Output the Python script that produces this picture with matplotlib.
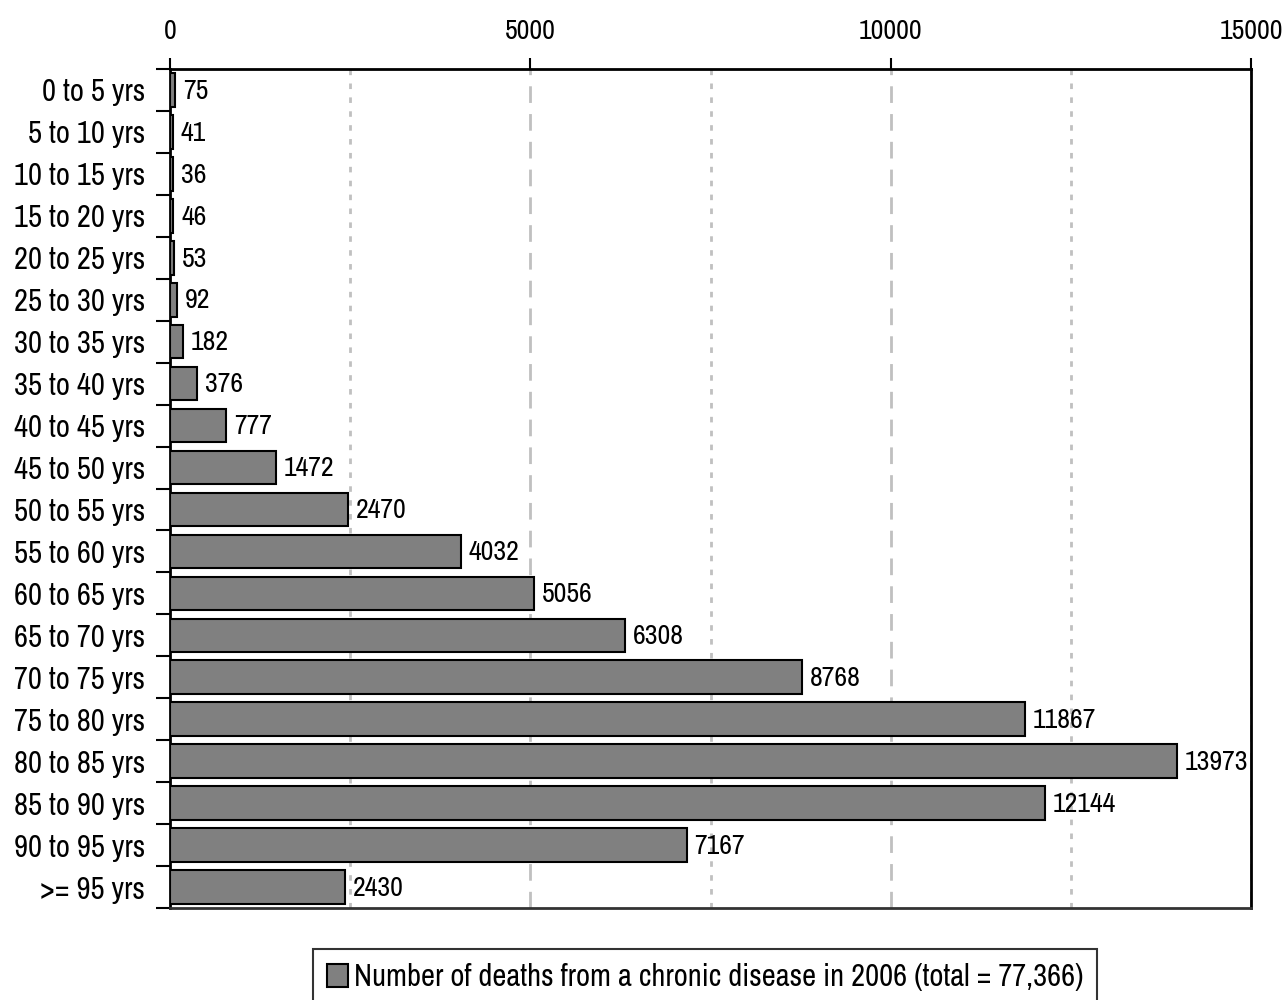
import matplotlib
matplotlib.use('Agg')
import matplotlib.pyplot as plt
import matplotlib.ticker as mticker
from matplotlib.patches import Patch
import numpy as np

# narrow sans, first installed one wins
plt.rcParams['font.family'] = ['Liberation Sans Narrow', 'Arial Narrow', 'Archivo Narrow',
                               'PT Sans Narrow', 'Roboto Condensed', 'Liberation Sans', 'DejaVu Sans']

age_groups = ['0 to 5 yrs', '5 to 10 yrs', '10 to 15 yrs', '15 to 20 yrs', '20 to 25 yrs',
              '25 to 30 yrs', '30 to 35 yrs', '35 to 40 yrs', '40 to 45 yrs', '45 to 50 yrs',
              '50 to 55 yrs', '55 to 60 yrs', '60 to 65 yrs', '65 to 70 yrs', '70 to 75 yrs',
              '75 to 80 yrs', '80 to 85 yrs', '85 to 90 yrs', '90 to 95 yrs', '>= 95 yrs']
deaths = [75, 41, 36, 46, 53, 92, 182, 376, 777, 1472,
          2470, 4032, 5056, 6308, 8768, 11867, 13973, 12144, 7167, 2430]
legend_label = 'Number of deaths from a chronic disease in 2006 (total = 77,366)'

fig = plt.figure(figsize=(12.84, 10), dpi=100)
ax = fig.add_axes([170 / 1284, 1 - 908 / 1000, (1251 - 170) / 1284, (908 - 69) / 1000])

y = np.arange(len(age_groups))
ax.barh(y, deaths, height=0.8, color='#808080', edgecolor='black', linewidth=1.5, zorder=3)

for yi, v in zip(y, deaths):
    ax.text(v + 110, yi + 0.03, str(v), va='center', ha='left', fontsize=20, zorder=4)

ax.set_xlim(0, 15000)
ax.set_ylim(len(age_groups) - 0.5, -0.5)

# grid lines: dashed at majors, dotted at halfway points
for gx in [5000, 10000, 15000]:
    ax.axvline(gx, color='#c0c0c0', linestyle=(0, (6, 4)), linewidth=2, zorder=1)
for gx in [2500, 7500, 12500]:
    ax.axvline(gx, color='#c0c0c0', linestyle=(0, (2, 3)), linewidth=2, zorder=1)

ax.xaxis.tick_top()
ax.set_xticks([0, 5000, 10000, 15000])
ax.tick_params(axis='x', direction='out', length=8, width=1.5, labelsize=20, pad=10)

ax.set_yticks(y)
ax.set_yticklabels(age_groups)
ax.yaxis.set_minor_locator(mticker.FixedLocator(np.arange(-0.5, len(age_groups), 1)))
ax.tick_params(axis='y', which='major', length=0, labelsize=22, pad=18)
ax.tick_params(axis='y', which='minor', direction='out', length=10, width=1.5)

for s in ['top', 'left', 'right']:
    ax.spines[s].set_linewidth(2)
ax.spines['bottom'].set_linewidth(2)
ax.spines['bottom'].set_color('#333333')

handle = Patch(facecolor='#808080', edgecolor='black', linewidth=1.5)
leg = fig.legend([handle], [legend_label], loc='lower center', bbox_to_anchor=(705 / 1284, -0.02),
                 fontsize=22, frameon=True, fancybox=False, edgecolor='black',
                 handlelength=0.7, handleheight=0.8, handletextpad=0.2, borderpad=0.45)
leg.get_frame().set_linewidth(1.5)

fig.savefig('out.png', dpi=100)
